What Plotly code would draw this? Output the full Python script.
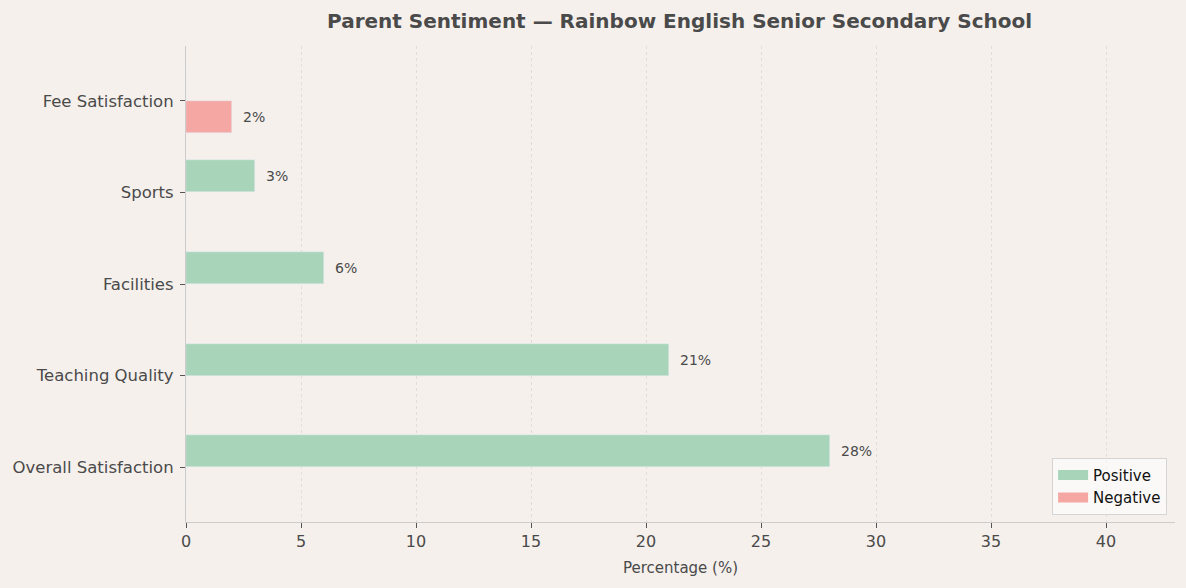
import plotly.graph_objects as go

# categories bottom -> top
categories = ['Overall Satisfaction', 'Teaching Quality', 'Facilities', 'Sports', 'Fee Satisfaction']
positive = [28, 21, 6, 3, 0]
negative = [0, 0, 0, 0, 2]
x_ticks = [0, 5, 10, 15, 20, 25, 30, 35, 40]

bg = '#f5f0ec'
txt = '#4a4a4a'
green = '#a8d5ba'
red = '#f5a8a3'
bar_w = 0.35

fig = go.Figure()
fig.add_trace(go.Bar(y=categories, x=positive, orientation='h', name='Positive',
                     marker_color=green, width=bar_w, offset=0, showlegend=False))
fig.add_trace(go.Bar(y=categories, x=negative, orientation='h', name='Negative',
                     marker_color=red, width=bar_w, offset=-bar_w, showlegend=False))

# legend entries drawn as wide patches (like matplotlib)
fig.add_trace(go.Scatter(x=[None], y=[None], mode='lines', name='Positive',
                         line=dict(color=green, width=11)))
fig.add_trace(go.Scatter(x=[None], y=[None], mode='lines', name='Negative',
                         line=dict(color=red, width=11)))

# value labels next to the non-zero bars
for i, (p, n) in enumerate(zip(positive, negative)):
    if p > 0:
        fig.add_annotation(x=p, y=i + bar_w / 2, text=f'{p}%', showarrow=False,
                           xanchor='left', xshift=9, font=dict(size=14, color=txt))
    if n > 0:
        fig.add_annotation(x=n, y=i - bar_w / 2, text=f'{n}%', showarrow=False,
                           xanchor='left', xshift=9, font=dict(size=14, color=txt))

fig.update_layout(
    width=1186, height=588,
    paper_bgcolor=bg, plot_bgcolor=bg,
    font=dict(family='DejaVu Sans', color=txt, size=15),
    title=dict(text='<b>Parent Sentiment — Rainbow English Senior Secondary School</b>',
               x=0.573, xanchor='center', y=0.965, yanchor='middle',
               font=dict(size=20, color=txt)),
    margin=dict(l=186, r=11, t=46, b=66),
    barmode='overlay',
    bargap=0,
    legend=dict(x=0.992, y=0.015, xanchor='right', yanchor='bottom',
                bgcolor='rgba(255,255,255,0.6)', bordercolor='#d5d5d5', borderwidth=1,
                font=dict(size=15, color='#111111'), tracegroupgap=0, itemwidth=30),
    showlegend=True,
)
fig.update_xaxes(range=[0, 43], tickvals=x_ticks, showgrid=True, gridcolor='#e2ddd8',
                 griddash='3px,3px', gridwidth=1, zeroline=False, showline=True,
                 linecolor='#cccccc', linewidth=1.2, ticks='outside', ticklen=5,
                 tickcolor='#555555', tickfont=dict(size=16, color=txt),
                 title=dict(text='Percentage (%)', font=dict(size=15, color=txt), standoff=12))
fig.update_yaxes(type='category', categoryorder='array', categoryarray=categories,
                 range=[-0.6, 4.6], showgrid=False, zeroline=False, showline=True,
                 linecolor='#cccccc', linewidth=1.2, ticks='outside', ticklen=5,
                 tickcolor='#555555', tickfont=dict(size=16.5, color=txt),
                 ticklabelstandoff=3)

fig.write_html('out.html', config={'displayModeBar': False},
               post_script="document.body.style.margin='0';")
